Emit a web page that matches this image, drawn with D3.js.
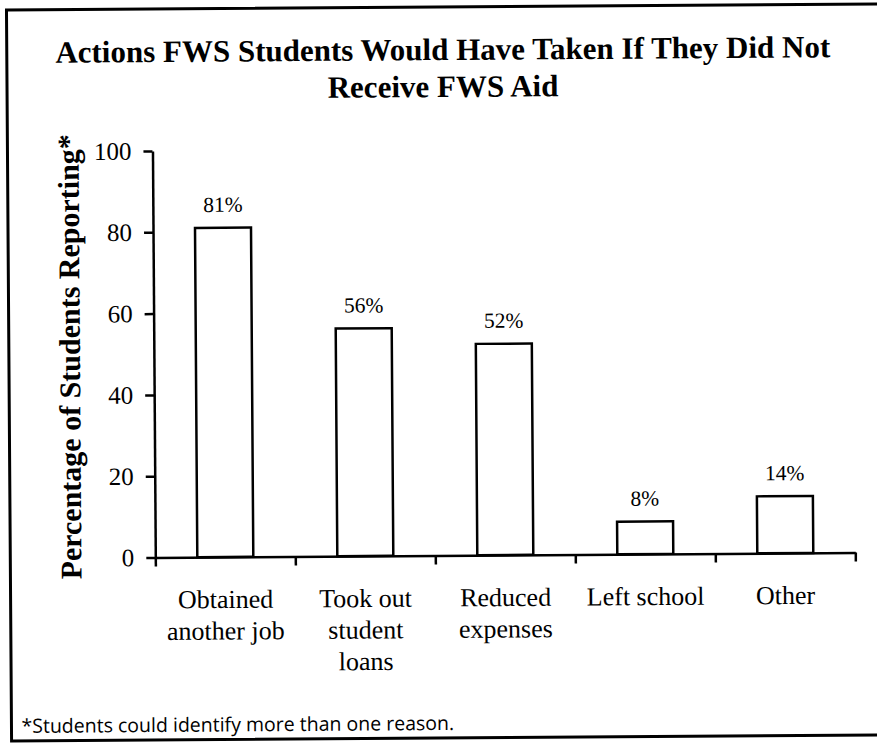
<!DOCTYPE html>
<html>
<head>
<meta charset="utf-8">
<script src="https://cdn.jsdelivr.net/npm/d3@7"></script>
<style>
  html, body { margin: 0; padding: 0; background: #fff; }
  svg { display: block; }
</style>
</head>
<body>
<svg id="chart" width="877" height="743"></svg>
<script>
// Chart data
const categories = ["Obtained another job", "Took out student loans", "Reduced expenses", "Left school", "Other"];
const categoryLines = [["Obtained", "another job"], ["Took out", "student", "loans"], ["Reduced", "expenses"], ["Left school"], ["Other"]];
const values = [81, 56, 52, 8, 14];
const valueLabels = ["81%", "56%", "52%", "8%", "14%"];
const yTicks = [0, 20, 40, 60, 80, 100];
const titleLines = ["Actions FWS Students Would Have Taken If They Did Not", "Receive FWS Aid"];
const yTitle = "Percentage of Students Reporting*";
const footnote = "*Students could identify more than one reason.";

const serif = "'Liberation Serif', 'Times New Roman', Times, serif";
const sans = "'Open Sans', Lato, 'DejaVu Sans', sans-serif";

const svg = d3.select("#chart");
// The whole sheet sits at a slight tilt
const page = svg.append("g").attr("transform", "rotate(-0.4 440 370)");

// Frame around the whole figure
page.append("rect")
  .attr("x", 9).attr("y", 7)
  .attr("width", 885).attr("height", 731)
  .attr("fill", "none").attr("stroke", "#000").attr("stroke-width", 3);

// Title
page.append("g").selectAll("text")
  .data(titleLines)
  .join("text")
  .attr("x", 445)
  .attr("y", (d, i) => 60 + i * 37)
  .attr("text-anchor", "middle")
  .attr("font-family", serif)
  .attr("font-weight", "bold")
  .attr("font-size", 31)
  .text(d => d);

// Scales
const plotLeft = 154, plotRight = 854, plotBottom = 555.5, plotTop = 149;
const x = d3.scaleBand()
  .domain(categories)
  .range([plotLeft, plotRight])
  .paddingInner(0.6)
  .paddingOuter(0.3);
const y = d3.scaleLinear().domain([0, 100]).range([plotBottom, plotTop]);
const xEdge = d3.scaleLinear().domain([0, categories.length]).range([plotLeft, plotRight]);

// Bars
page.append("g").selectAll("rect")
  .data(values)
  .join("rect")
  .attr("x", (d, i) => x(categories[i]))
  .attr("y", d => y(d))
  .attr("width", x.bandwidth())
  .attr("height", d => y(0) - y(d))
  .attr("fill", "#fff")
  .attr("stroke", "#000")
  .attr("stroke-width", 2.5);

// Value labels above bars
page.append("g").selectAll("text")
  .data(values)
  .join("text")
  .attr("x", (d, i) => x(categories[i]) + x.bandwidth() / 2)
  .attr("y", d => y(d) - 16)
  .attr("text-anchor", "middle")
  .attr("font-family", serif)
  .attr("font-size", 21.5)
  .text((d, i) => valueLabels[i]);

// Y axis
const yAxis = page.append("g")
  .attr("transform", `translate(${plotLeft},0)`)
  .call(d3.axisLeft(y).tickValues(yTicks).tickSize(9).tickSizeOuter(0).tickPadding(12));
yAxis.select(".domain").attr("stroke-width", 2.5);
yAxis.selectAll(".tick line").attr("stroke-width", 2.5);
yAxis.selectAll(".tick text")
  .attr("font-family", serif)
  .attr("font-size", 25)
  .attr("fill", "#000");

// X axis with ticks between categories
const xAxis = page.append("g")
  .attr("transform", `translate(0,${plotBottom})`)
  .call(d3.axisBottom(xEdge).tickValues(d3.range(categories.length + 1)).tickSize(9).tickSizeOuter(0).tickFormat(""));
xAxis.select(".domain").attr("stroke-width", 2.5);
xAxis.selectAll(".tick line").attr("stroke-width", 2.5);

// Category labels
const catText = page.append("g").selectAll("text")
  .data(categoryLines)
  .join("text")
  .attr("text-anchor", "middle")
  .attr("font-family", serif)
  .attr("font-size", 26)
  .attr("transform", (d, i) => `translate(${x(categories[i]) + x.bandwidth() / 2},${plotBottom + 51})`);
catText.selectAll("tspan")
  .data(d => d)
  .join("tspan")
  .attr("x", 0)
  .attr("y", (d, i) => i * 31.5)
  .text(d => d);

// Y axis title
page.append("text")
  .attr("transform", `translate(80,${(plotTop + plotBottom) / 2 + 2}) rotate(-90)`)
  .attr("text-anchor", "middle")
  .attr("font-family", serif)
  .attr("font-weight", "bold")
  .attr("font-size", 30)
  .text(yTitle);

// Footnote
page.append("text")
  .attr("x", 19)
  .attr("y", 730)
  .attr("font-family", sans)
  .attr("font-size", 19.5)
  .text(footnote);
</script>
</body>
</html>
